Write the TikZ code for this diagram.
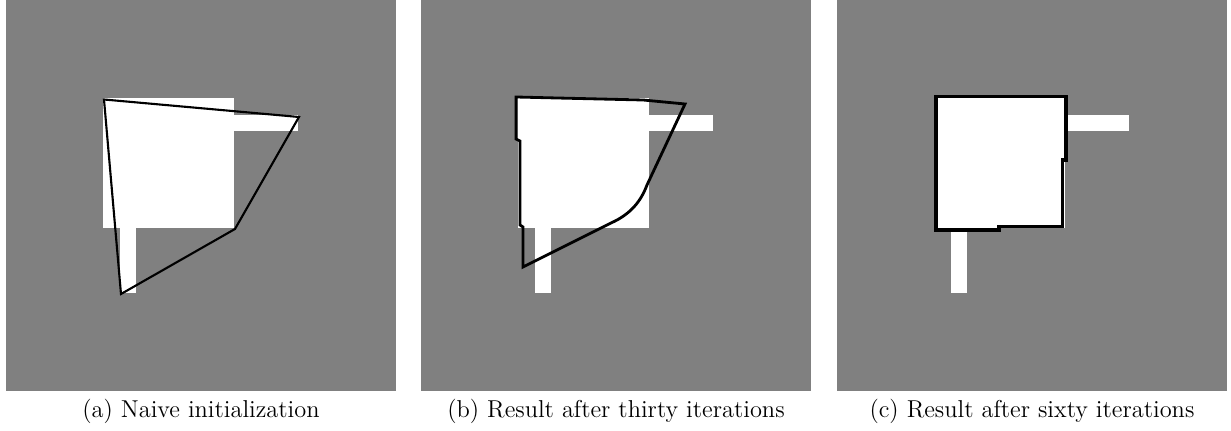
\documentclass[tikz,border=0pt]{standalone}
\definecolor{bggray}{gray}{0.5}
\begin{document}
\begin{tikzpicture}[x=0.02cm,y=-0.02cm,
  contour/.style={draw=black,line width=#1},
  contour/.default=1.2pt,
  caption/.style={anchor=base,inner sep=0pt,font=\fontsize{13.9}{16}\selectfont}]
  \useasboundingbox (0,0) rectangle (1231,431);

  % Three gray frames, each with the same white target shape and its caption.
  \foreach \px/\lbl/\txt in {6/a/Naive initialization,421/b/Result after thirty iterations,837/c/Result after sixty iterations}{
   \begin{scope}[shift={(\px,0)}]
    \fill[bggray] (0,0) rectangle (390,390.7);
    \fill[white] (97,98) rectangle (227.5,228);
    \fill[white] (227,115) rectangle (292,131);
    \fill[white] (114,227) rectangle (130,293);
    \node[caption] (cap\lbl) at (195,418) {(\lbl) \txt};
   \end{scope}
  }

  % (a) Naive initialization: polygon through the extreme points of the shape.
  \begin{scope}[shift={(6,0)}]
   \draw[contour] (98,99.5) -- (293,117) -- (229,229) -- (115,294) -- cycle;
  \end{scope}

  % (b) After thirty iterations the contour starts to bend into the square.
  \begin{scope}[shift={(421,0)}]
   \draw[contour=1.6pt] (95,97) -- (136,98) -- (222,100) -- (264,104) -- (226,185)
    .. controls (220,201) and (210,214) .. (190,223) -- (102,267) -- (102,227)
    -- (99,225) -- (99,141) -- (95,139) -- cycle;
  \end{scope}

  % (c) After sixty iterations the contour hugs the square.
  \begin{scope}[shift={(837,0)}]
   \draw[contour=2pt] (99,96.7) -- (229,96.7) -- (229,160) -- (225.4,160) -- (225.4,226.3)
    -- (162,226.3) -- (162,230) -- (99,230) -- cycle;
  \end{scope}
\end{tikzpicture}
\end{document}
